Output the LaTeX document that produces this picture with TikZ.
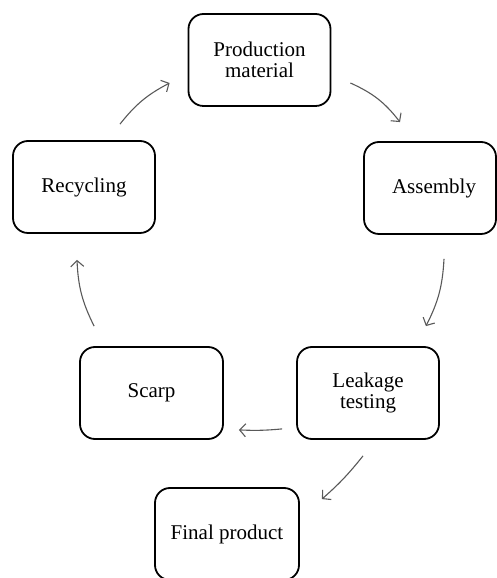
\documentclass[tikz,border=0pt]{standalone}
\usepackage{fontspec}
\setmainfont{Liberation Serif}
\usetikzlibrary{arrows.meta}
\begin{document}
\begin{tikzpicture}[x=1pt,y=1pt,
  box/.style={draw=black, line width=1.8pt, rounded corners=15pt, minimum width=142pt, minimum height=92pt, align=center, font=\fontsize{21}{20.5}\selectfont, inner sep=0pt},
  arr/.style={draw=black!65, line width=1.1pt, -{Straight Barb[length=6pt,width=13pt,line width=1.1pt]}}]
\useasboundingbox (0,0) rectangle (496,578);
\node[box] (prod) at (259.5,518) {Production\\material};
\node[box, minimum width=132pt] (asm) at (430,390) {\hspace*{8pt}Assembly};
\node[box] (rec) at (84,391) {Recycling};
\node[box, minimum width=143pt] (scarp) at (151.5,185) {Scarp};
\node[box] (leak) at (368,185) {Leakage\\testing};
\node[box, minimum width=144pt] (final) at (227,44) {Final product};
\draw[arr] ([xshift=36pt,yshift=16pt]rec.north) to[bend left=12] ([xshift=-18pt,yshift=-23pt]prod.west);
\draw[arr] ([xshift=19pt,yshift=-23pt]prod.east) to[bend left=14] ([xshift=-30pt,yshift=19pt]asm.north);
\draw[arr] ([xshift=14pt,yshift=-24pt]asm.south) to[bend left=12] ([xshift=-14pt,yshift=20pt]leak.north east);
\draw[arr] ([xshift=-14pt,yshift=11pt]leak.south west) to[bend left=4] ([xshift=15pt,yshift=10pt]scarp.south east);
\draw[arr] ([xshift=-5pt,yshift=-16pt]leak.south) to[bend left=5] ([xshift=22pt,yshift=-12pt]final.north east);
\draw[arr] ([xshift=15pt,yshift=20pt]scarp.north west) to[bend left=12] ([xshift=-7pt,yshift=-26pt]rec.south);
\end{tikzpicture}
\end{document}
